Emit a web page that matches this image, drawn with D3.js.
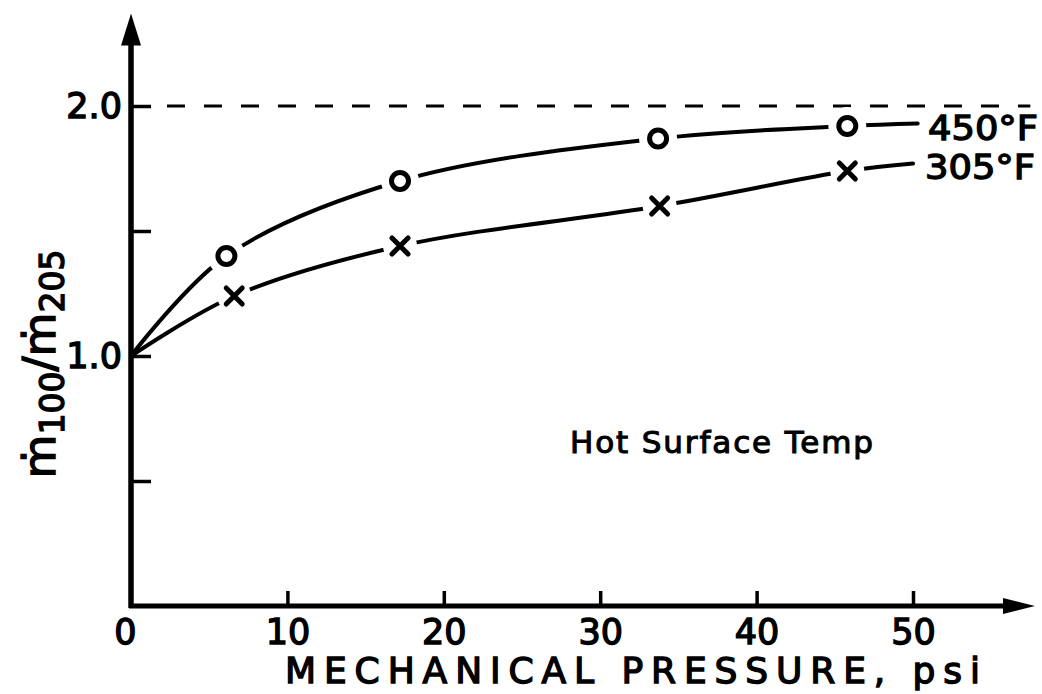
<!DOCTYPE html>
<html>
<head>
<meta charset="utf-8">
<script src="https://cdn.jsdelivr.net/npm/d3@7"></script>
<style>
  body { margin: 0; background: #fff; }
  svg text { font-family: "DejaVu Sans", sans-serif; fill: #000; }
</style>
</head>
<body>
<div id="chart"></div>
<script>
// values
const xTicks = [0, 10, 20, 30, 40, 50];
const yTicks = [0.5, 1.0, 1.5, 2.0];
const yTickLabels = ['', '1.0', '', '2.0'];

// 450°F series (circles)
const pressure450 = [6.1, 17.2, 33.7, 45.8];
const ratio450 = [1.40, 1.70, 1.87, 1.92];
// 305°F series (crosses)
const pressure305 = [6.6, 17.2, 33.8, 45.8];
const ratio305 = [1.24, 1.44, 1.60, 1.74];

// hand-drawn curves start at (0, 1.0) and run on to the labels
const curveStart = [0, 1.0];
const curveEnd450 = [50.3, 1.93];
const curveEnd305 = [50.0, 1.77];
const limitRatio = 2.0;

const width = 1042;
const height = 694;

const svg = d3.select('#chart')
    .append('svg')
    .attr('width', width)
    .attr('height', height);

const x = d3.scaleLinear().domain([0, 50]).range([131, 913]);
const y = d3.scaleLinear().domain([0, 2]).range([606, 106]);

// axes (ticks only, the thick lines are drawn by hand below)
const xAxis = svg.append('g')
    .attr('transform', `translate(0, ${y(0)})`)
    .call(d3.axisBottom(x).tickValues(xTicks).tickSize(-15).tickPadding(8).tickFormat(d3.format('d')));

const yAxis = svg.append('g')
    .attr('transform', `translate(${x(0)}, 0)`)
    .call(d3.axisLeft(y).tickValues(yTicks).tickSize(-20).tickPadding(9)
        .tickFormat((d, i) => yTickLabels[i]));

[xAxis, yAxis].forEach(a => {
    a.select('.domain').remove();
    a.selectAll('line').attr('stroke', '#000').attr('stroke-width', 3.5);
    a.selectAll('text')
        .style('font-size', '35px')
        .attr('stroke', '#000')
        .attr('stroke-width', 1.4);
});
xAxis.selectAll('text').attr('dy', '0.85em');
xAxis.selectAll('.tick').filter(d => d === 0).select('line').remove();
xAxis.selectAll('.tick').filter(d => d === 0).select('text').attr('x', -6);

// thick axis lines with arrow heads
const axisTopY = 2.37;
const axisEndX = 57.8;
svg.append('line')
    .attr('x1', x(0)).attr('y1', y(0) + 2)
    .attr('x2', x(0)).attr('y2', y(axisTopY) + 20)
    .attr('stroke', '#000').attr('stroke-width', 5.5);
svg.append('line')
    .attr('x1', x(0) - 2).attr('y1', y(0))
    .attr('x2', x(axisEndX) - 20).attr('y2', y(0))
    .attr('stroke', '#000').attr('stroke-width', 5);

svg.append('path')
    .attr('d', `M${x(0)},${y(axisTopY)} L${x(0) + 10},${y(axisTopY) + 32} L${x(0) - 10},${y(axisTopY) + 32} Z`)
    .attr('fill', '#000');
svg.append('path')
    .attr('d', `M${x(axisEndX)},${y(0)} L${x(axisEndX) - 32},${y(0) - 8} L${x(axisEndX) - 32},${y(0) + 8} Z`)
    .attr('fill', '#000');

// dashed limit line at 2.0
svg.append('line')
    .attr('x1', x(2.3)).attr('y1', y(limitRatio))
    .attr('x2', x(57.5)).attr('y2', y(limitRatio))
    .attr('stroke', '#000')
    .attr('stroke-width', 3)
    .attr('stroke-dasharray', '18,19');

// curves
const line = d3.line()
    .x(d => x(d[0]))
    .y(d => y(d[1]))
    .curve(d3.curveCatmullRom.alpha(0.5));

const pts450 = [curveStart, ...pressure450.map((p, i) => [p, ratio450[i]]), curveEnd450];
const pts305 = [curveStart, ...pressure305.map((p, i) => [p, ratio305[i]]), curveEnd305];

[pts450, pts305].forEach(pts => {
    svg.append('path')
        .attr('d', line(pts))
        .attr('fill', 'none')
        .attr('stroke', '#000')
        .attr('stroke-width', 4)
        .attr('stroke-linecap', 'round');
});

// white gaps around the markers
const markers = [
    ...pressure450.map((p, i) => ({ p, r: ratio450[i], type: 'o' })),
    ...pressure305.map((p, i) => ({ p, r: ratio305[i], type: 'x' }))
];

svg.selectAll('.gap')
    .data(markers)
    .enter()
    .append('circle')
    .attr('class', 'gap')
    .attr('cx', d => x(d.p))
    .attr('cy', d => y(d.r))
    .attr('r', d => d.type === 'o' ? 19 : 17)
    .attr('fill', '#fff');

svg.selectAll('.mark-o')
    .data(markers.filter(d => d.type === 'o'))
    .enter()
    .append('circle')
    .attr('class', 'mark-o')
    .attr('cx', d => x(d.p))
    .attr('cy', d => y(d.r))
    .attr('r', 8.5)
    .attr('fill', 'none')
    .attr('stroke', '#000')
    .attr('stroke-width', 5);

svg.selectAll('.mark-x')
    .data(markers.filter(d => d.type === 'x'))
    .enter()
    .append('path')
    .attr('class', 'mark-x')
    .attr('d', d => {
        const cx = x(d.p), cy = y(d.r), s = 8;
        return `M${cx - s},${cy - s} L${cx + s},${cy + s} M${cx - s},${cy + s} L${cx + s},${cy - s}`;
    })
    .attr('stroke', '#000')
    .attr('stroke-width', 5)
    .attr('stroke-linecap', 'round');

// series labels
svg.append('text')
    .attr('x', 928).attr('y', y(curveEnd450[1]) + 16)
    .attr('textLength', 110).attr('lengthAdjust', 'spacingAndGlyphs')
    .style('font-size', '33px')
    .attr('stroke', '#000').attr('stroke-width', 1.3)
    .text('450°F');
svg.append('text')
    .attr('x', 925).attr('y', y(curveEnd305[1]) + 15)
    .attr('textLength', 110).attr('lengthAdjust', 'spacingAndGlyphs')
    .style('font-size', '33px')
    .attr('stroke', '#000').attr('stroke-width', 1.3)
    .text('305°F');

svg.append('text')
    .attr('x', 570).attr('y', 453)
    .attr('textLength', 303).attr('lengthAdjust', 'spacing')
    .style('font-size', '31px')
    .attr('stroke', '#000').attr('stroke-width', 1.1)
    .text('Hot Surface Temp');

// axis titles
svg.append('text')
    .attr('x', 285).attr('y', 683)
    .attr('textLength', 695).attr('lengthAdjust', 'spacing')
    .style('font-size', '36px')
    .attr('stroke', '#000').attr('stroke-width', 1.4)
    .text('MECHANICAL PRESSURE, psi');

const yTitle = svg.append('text')
    .attr('transform', 'translate(55, 364) rotate(-90)')
    .attr('text-anchor', 'middle')
    .attr('stroke', '#000').attr('stroke-width', 1.4)
    .style('font-size', '45px');
yTitle.append('tspan').text('ṁ');
yTitle.append('tspan').attr('dy', 9).style('font-size', '33px').text('100');
yTitle.append('tspan').attr('dy', -9).text('/ṁ');
yTitle.append('tspan').attr('dy', 9).style('font-size', '33px').text('205');
</script>
</body>
</html>
